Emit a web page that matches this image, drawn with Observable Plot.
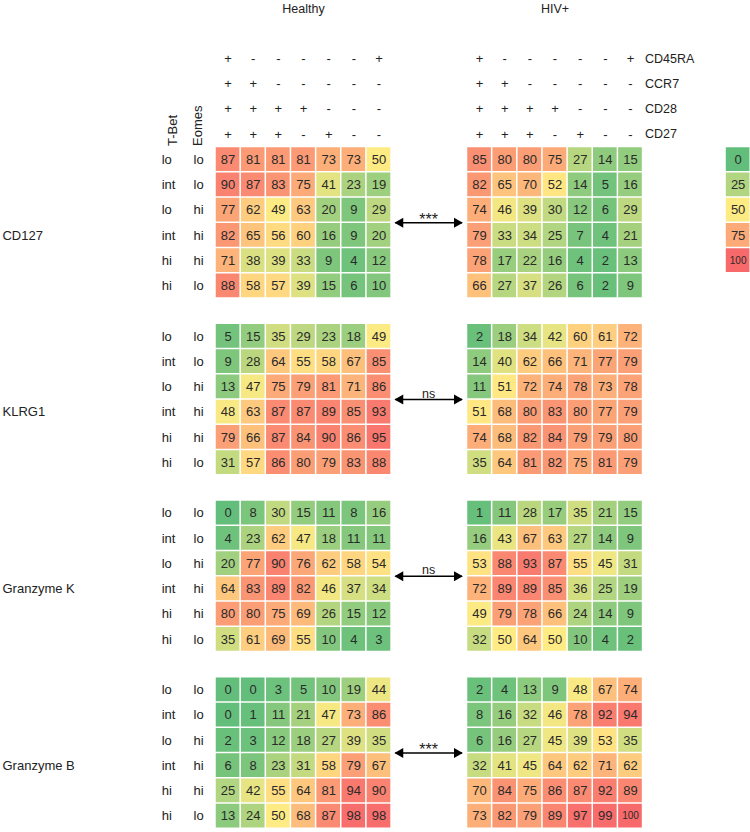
<!DOCTYPE html>
<html>
<head>
<meta charset="utf-8">
<script src="https://cdn.jsdelivr.net/npm/d3@7"></script>
<script src="https://cdn.jsdelivr.net/npm/@observablehq/plot@0.6"></script>
<style>
  html, body { margin: 0; padding: 0; background: #fff; }
  #chart { width: 750px; height: 832px; }
</style>
</head>
<body>
<div id="chart"></div>
<script>
// ---- Data ----
const groups = ["Healthy", "HIV+"];
const markers = ["CD127", "KLRG1", "Granzyme K", "Granzyme B"];
const significance = ["***", "ns", "ns", "***"];
const tbetLabels = ["lo", "int", "lo", "int", "hi", "hi"];
const eomesLabels = ["lo", "lo", "hi", "hi", "hi", "lo"];
const signRowNames = ["CD45RA", "CCR7", "CD28", "CD27"];
const signCD45RA = ["+", "-", "-", "-", "-", "-", "+"];
const signCCR7   = ["+", "+", "-", "-", "-", "-", "-"];
const signCD28   = ["+", "+", "+", "+", "-", "-", "-"];
const signCD27   = ["+", "+", "+", "-", "+", "-", "-"];
const legendValues = [0, 25, 50, 75, 100];

const cd127Healthy = [
  [87,81,81,81,73,73,50],
  [90,87,83,75,41,23,19],
  [77,62,49,63,20,9,29],
  [82,65,56,60,16,9,20],
  [71,38,39,33,9,4,12],
  [88,58,57,39,15,6,10]
];
const cd127HIV = [
  [85,80,80,75,27,14,15],
  [82,65,70,52,14,5,16],
  [74,46,39,30,12,6,29],
  [79,33,34,25,7,4,21],
  [78,17,22,16,4,2,13],
  [66,27,37,26,6,2,9]
];
const klrg1Healthy = [
  [5,15,35,29,23,18,49],
  [9,28,64,55,58,67,85],
  [13,47,75,79,81,71,86],
  [48,63,87,87,89,85,93],
  [79,66,87,84,90,86,95],
  [31,57,86,80,79,83,88]
];
const klrg1HIV = [
  [2,18,34,42,60,61,72],
  [14,40,62,66,71,77,79],
  [11,51,72,74,78,73,78],
  [51,68,80,83,80,77,79],
  [74,68,82,84,79,79,80],
  [35,64,81,82,75,81,79]
];
const granKHealthy = [
  [0,8,30,15,11,8,16],
  [4,23,62,47,18,11,11],
  [20,77,90,76,62,58,54],
  [64,83,89,82,46,37,34],
  [80,80,75,69,26,15,12],
  [35,61,69,55,10,4,3]
];
const granKHIV = [
  [1,11,28,17,35,21,15],
  [16,43,67,63,27,14,9],
  [53,88,93,87,55,45,31],
  [72,89,89,85,36,25,19],
  [49,79,78,66,24,14,9],
  [32,50,64,50,10,4,2]
];
const granBHealthy = [
  [0,0,3,5,10,19,44],
  [0,1,11,21,47,73,86],
  [2,3,12,18,27,39,35],
  [6,8,23,31,58,79,67],
  [25,42,55,64,81,94,90],
  [13,24,50,68,87,98,98]
];
const granBHIV = [
  [2,4,13,9,48,67,74],
  [8,16,32,46,78,92,94],
  [6,16,27,45,39,53,35],
  [32,41,45,64,62,71,62],
  [70,84,75,86,87,92,89],
  [73,82,79,89,97,99,100]
];

// ---- Layout (column / row units) ----
const W = 750, H = 832;
const colPx = 25.15, rowPx = 25.25;
const x0px = 215, y0px = 146.5;
const groupOffset = [0, 10];   // Healthy at col 0, HIV+ at col 10
const legendCol = 20.28;
const blockStride = 7;          // 6 rows + 1 gap
const nCols = 7;

const blocks = [
  [cd127Healthy, cd127HIV],
  [klrg1Healthy, klrg1HIV],
  [granKHealthy, granKHIV],
  [granBHealthy, granBHIV]
];

const cells = [];
blocks.forEach((pair, b) => {
  pair.forEach((mat, g) => {
    mat.forEach((row, r) => {
      row.forEach((v, c) => {
        cells.push({
          value: v,
          x1: groupOffset[g] + c, x2: groupOffset[g] + c + 1,
          y1: b * blockStride + r, y2: b * blockStride + r + 1
        });
      });
    });
  });
});
const legendCells = legendValues.map((v, i) => ({
  value: v, x1: legendCol, x2: legendCol + 1, y1: i, y2: i + 1
}));
const allCells = cells.concat(legendCells);

const rowLabels = [];
markers.forEach((m, b) => {
  tbetLabels.forEach((t, r) => rowLabels.push({ text: t, x: -2.14, y: b * blockStride + r + 0.5 }));
  eomesLabels.forEach((t, r) => rowLabels.push({ text: t, x: -0.875, y: b * blockStride + r + 0.5 }));
});
const markerLabels = markers.map((m, b) => ({ text: m, x: -8.47, y: b * blockStride + 3.5 }));

const signRows = [signCD45RA, signCCR7, signCD28, signCD27];
const signs = [];
signRows.forEach((arr, k) => {
  groupOffset.forEach(off => {
    arr.forEach((s, c) => signs.push({ text: s, x: off + c + 0.5, y: k - 4 + 0.5 }));
  });
});
const signNames = signRowNames.map((n, k) => ({ text: n, x: groupOffset[1] + nCols, y: k - 4 + 0.5 }));
const headers = groups.map((g, i) => ({ text: g, x: groupOffset[i] + nCols / 2, y: -5.485 }));

const arrows = markers.map((m, b) => ({ x1: 7.15, x2: 9.8, y: b * blockStride + 3, label: significance[b] }));

const xDomain = [-x0px / colPx, (W - x0px) / colPx];
const yDomain = [-y0px / rowPx, (H - y0px) / rowPx];

const chart = Plot.plot({
  width: W, height: H,
  margin: 0,
  style: { fontFamily: "'Liberation Sans', Arial, sans-serif", background: "#fff", color: "#222" },
  x: { type: "linear", domain: xDomain, range: [0, W], axis: null },
  y: { type: "linear", domain: yDomain, range: [0, H], axis: null },
  color: { type: "linear", domain: [0, 50, 100], range: ["#63BE7B", "#FFEB84", "#F8696B"], interpolate: "rgb" },
  marks: [
    Plot.rect(allCells, { x1: "x1", x2: "x2", y1: "y1", y2: "y2", fill: "value", inset: 0.75 }),
    Plot.text(allCells.filter(d => d.value !== 100), {
      x: d => (d.x1 + d.x2) / 2, y: d => (d.y1 + d.y2) / 2, text: d => String(d.value),
      fontSize: 13, fill: "#2a2a2a"
    }),
    Plot.text(allCells.filter(d => d.value === 100), {
      x: d => (d.x1 + d.x2) / 2, y: d => (d.y1 + d.y2) / 2, text: d => String(d.value),
      fontSize: 10, fill: "#2a2a2a", letterSpacing: "-0.6px"
    }),
    Plot.text(rowLabels, { x: "x", y: "y", text: "text", textAnchor: "start", fontSize: 13, fill: "#222" }),
    Plot.text(markerLabels, { x: "x", y: "y", text: "text", textAnchor: "start", fontSize: 13, fill: "#222" }),
    Plot.text(signs, { x: "x", y: "y", text: "text", fontSize: 13, fill: "#222" }),
    Plot.text(signNames, { x: "x", y: "y", text: "text", textAnchor: "start", dx: 2, fontSize: 12.5, fill: "#222" }),
    Plot.text(headers, { x: "x", y: "y", text: "text", fontSize: 12.5, fill: "#222" }),
    Plot.text([{ text: "T-Bet", x: -1.71, y: 0 }, { text: "Eomes", x: -0.72, y: 0 }], {
      x: "x", y: "y", text: "text", rotate: -90, textAnchor: "start", dy: -1, fontSize: 13, fill: "#222"
    }),
    Plot.link(arrows, { x1: "x1", x2: "x2", y1: "y", y2: "y", stroke: "#000", strokeWidth: 1.6 }),
    Plot.dot(arrows, { x: "x2", y: "y", symbol: "triangle", rotate: 90, r: 3.8, fill: "#000", stroke: "none", dx: -5 }),
    Plot.dot(arrows, { x: "x1", y: "y", symbol: "triangle", rotate: -90, r: 3.8, fill: "#000", stroke: "none", dx: 5 }),
    Plot.text(arrows.filter(d => d.label === "***"), { x: d => (d.x1 + d.x2) / 2, y: "y", text: "label", lineAnchor: "bottom", dy: 2, fontSize: 16, fill: "#222" }),
    Plot.text(arrows.filter(d => d.label !== "***"), { x: d => (d.x1 + d.x2) / 2, y: "y", text: "label", lineAnchor: "bottom", dy: -2, fontSize: 12.5, fill: "#222" })
  ]
});
document.getElementById("chart").appendChild(chart);
</script>
</body>
</html>
